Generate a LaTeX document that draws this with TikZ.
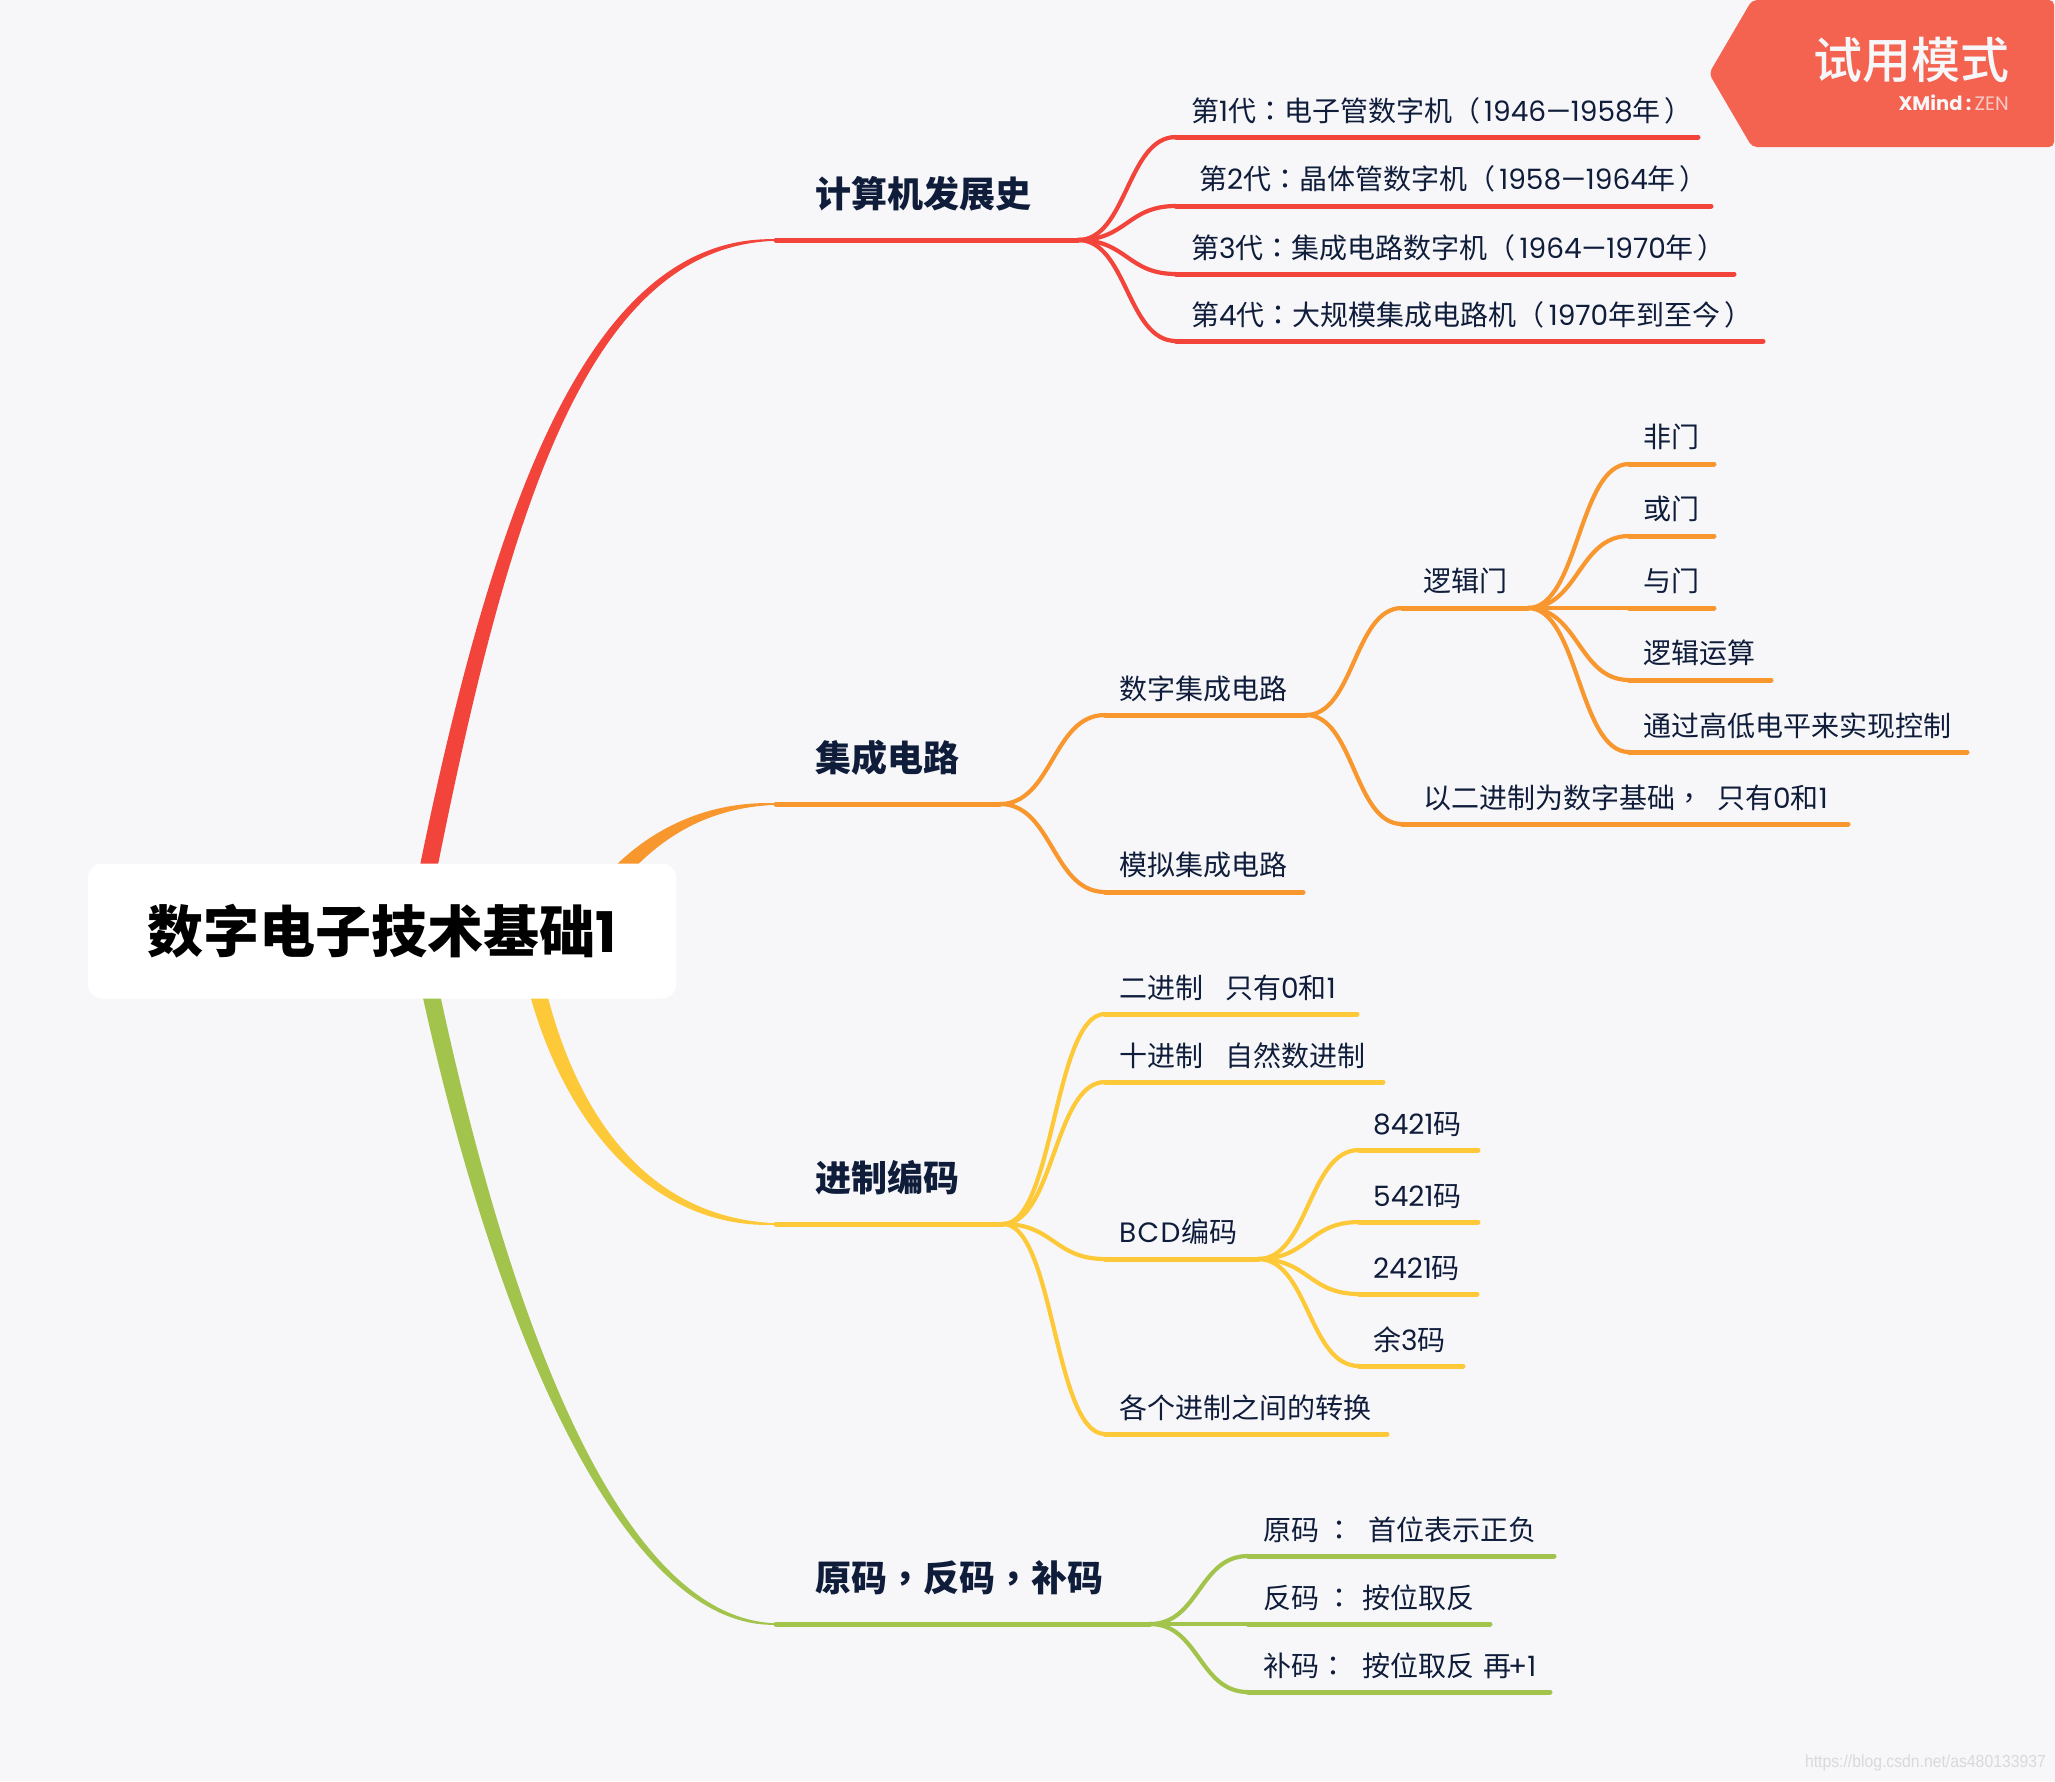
\documentclass[tikz,border=0pt]{standalone}
\usepackage{fontspec}
\usetikzlibrary{calc}
\setmainfont{Noto Sans CJK SC}
\newfontfamily\latf{Poppins}
\newfontfamily\tcf{Noto Sans CJK TC}
\newfontfamily\blackf{Noto Sans CJK SC Black}
\newfontfamily\medf{Noto Sans CJK SC Medium}
\newfontfamily\wmf{Liberation Sans}
\newcommand{\Lt}[1]{{\latf #1}}
\newcommand{\Pc}[1]{{\tcf #1}}
\newcommand{\Po}{\Pc{（}\hspace{4pt}}
\newcommand{\Pe}{\hspace{4pt}\Pc{）}}
\definecolor{bgc}{HTML}{F7F7FA}
\definecolor{redc}{HTML}{F2443A}
\definecolor{orac}{HTML}{F9972F}
\definecolor{yelc}{HTML}{FEC938}
\definecolor{grec}{HTML}{A3C44C}
\definecolor{navy}{HTML}{0F1D3A}
\definecolor{badge}{HTML}{F46350}
\tikzset{
  leaftext/.style={anchor=west,inner sep=0pt,text=navy,font=\fontsize{28}{34}\selectfont,text height=26.4pt,text depth=2.6pt},
  topictext/.style={anchor=west,inner sep=0pt,text=navy,font=\fontsize{36}{42}\selectfont\bfseries,text height=31.7pt,text depth=4.3pt},
  linkline/.style={line width=4.2pt,line cap=round},
  barline/.style={line width=5pt,line cap=round},
}
% name, colour, x0, x1, y, textx, texty, text
\newcommand{\leafitem}[8]{%
  \coordinate (#1s) at (#3,#5);
  \coordinate (#1e) at (#4,#5);
  \draw[barline,draw=#2] (#1s) -- (#1e);
  \node[leaftext] (#1) at (#6,#7) {#8};
}
\newcommand{\linkto}[3]{%
  \draw[linkline,draw=#1] (#2) .. controls ($(#2)!0.5!(#3 |- #2)$) and ($(#3)!0.5!(#2 |- #3)$) .. (#3);
}
% colour, P0, c1, c2, P3(name coordinates), off x, off y, off at c2
\newcommand{\taper}[8]{%
  \fill[#1] ($(#2)+({-1*(#6)},{-1*(#7)})$) .. controls ($(#3)+({-1*(#6)},{-1*(#7)})$) and ($(#4)+(0,{-1*(#8)})$) .. ($(#5)+(0,-0.8)$)
    -- ($(#5)+(0,0.8)$) .. controls ($(#4)+(0,#8)$) and ($(#3)+(#6,#7)$) .. ($(#2)+(#6,#7)$) -- cycle;
}
\begin{document}
\begin{tikzpicture}[x=1pt,y=-1pt]
\useasboundingbox (0,0) rectangle (2055,1781);
\fill[bgc] (0,0) rectangle (2055,1781);

% main branches
\coordinate (rA) at (416,931); \coordinate (rB) at (493,531); \coordinate (rC) at (580,240); \coordinate (rD) at (776,240);
\coordinate (oA) at (590,910); \coordinate (oB) at (630,850); \coordinate (oC) at (690,804); \coordinate (oD) at (776,804);
\coordinate (yA) at (525,930); \coordinate (yB) at (553,1110); \coordinate (yC) at (645,1224); \coordinate (yD) at (776,1224);
\coordinate (gA) at (418,931); \coordinate (gB) at (491,1300); \coordinate (gC) at (615,1624); \coordinate (gD) at (776,1624);
\taper{redc}{rA}{rB}{rC}{rD}{9}{0}{6}
\taper{orac}{oA}{oB}{oC}{oD}{7}{5}{4}
\taper{yelc}{yA}{yB}{yC}{yD}{-9}{0}{6}
\taper{grec}{gA}{gB}{gC}{gD}{-9}{0}{5}

% central topic
\node[fill=white,rounded corners=14pt,minimum width=588pt,minimum height=135pt,inner sep=0pt,anchor=center,text=black] (central) at (382,931)
  {\fontsize{56}{60}\selectfont\blackf 数字电子技术基础\Lt{\bfseries 1}};

% red
\coordinate (t1s) at (776,240); \coordinate (t1e) at (1078,240);
\draw[barline,draw=redc] (t1s) -- (t1e);
\node[topictext] (t1) at (815,194) {计算机发展史};
\leafitem{r1}{redc}{1176}{1698}{137}{1191}{110}{第\Lt{1}代\Pc{：}电子管数字机\Po\Lt{1946—1958}年\Pe}
\leafitem{r2}{redc}{1176}{1711}{206}{1199}{178}{第\Lt{2}代\Pc{：}晶体管数字机\Po\Lt{1958—1964}年\Pe}
\leafitem{r3}{redc}{1176}{1734}{274}{1191}{247}{第\Lt{3}代\Pc{：}集成电路数字机\Po\Lt{1964—1970}年\Pe}
\leafitem{r4}{redc}{1176}{1763}{341}{1191}{314}{第\Lt{4}代\Pc{：}大规模集成电路机\Po\Lt{1970}年到至今\Pe}
\linkto{redc}{t1e}{r1s}\linkto{redc}{t1e}{r2s}\linkto{redc}{t1e}{r3s}\linkto{redc}{t1e}{r4s}

% orange
\coordinate (t2s) at (776,804); \coordinate (t2e) at (1000,804);
\draw[barline,draw=orac] (t2s) -- (t2e);
\node[topictext] (t2) at (815,758) {集成电路};
\leafitem{o1}{orac}{1105}{1306}{715}{1119}{688}{数字集成电路}
\leafitem{o2}{orac}{1105}{1303}{892}{1119}{864}{模拟集成电路}
\linkto{orac}{t2e}{o1s}\linkto{orac}{t2e}{o2s}
\leafitem{o3}{orac}{1402}{1528}{608}{1423}{580}{逻辑门}
\leafitem{o4}{orac}{1402}{1848}{824}{1423}{797}{以二进制为数字基础\Pc{，}\hspace{14pt}只有\Lt{0}和\Lt{1}}
\linkto{orac}{o1e}{o3s}\linkto{orac}{o1e}{o4s}
\leafitem{o5}{orac}{1629}{1714}{464}{1643}{436}{非门}
\leafitem{o6}{orac}{1629}{1714}{536}{1643}{508}{或门}
\leafitem{o7}{orac}{1629}{1714}{608}{1643}{580}{与门}
\leafitem{o8}{orac}{1629}{1771}{680}{1643}{652}{逻辑运算}
\leafitem{o9}{orac}{1629}{1967}{752}{1643}{725}{通过高低电平来实现控制}
\linkto{orac}{o3e}{o5s}\linkto{orac}{o3e}{o6s}\linkto{orac}{o3e}{o7s}\linkto{orac}{o3e}{o8s}\linkto{orac}{o3e}{o9s}

% yellow
\coordinate (t3s) at (776,1224); \coordinate (t3e) at (1003,1224);
\draw[barline,draw=yelc] (t3s) -- (t3e);
\node[topictext] (t3) at (815,1178) {进制编码};
\leafitem{y1}{yelc}{1105}{1357}{1014}{1119}{987}{二进制\hspace{22pt}只有\Lt{0}和\Lt{1}}
\leafitem{y2}{yelc}{1105}{1383}{1082}{1119}{1055}{十进制\hspace{22pt}自然数进制}
\leafitem{y3}{yelc}{1105}{1258}{1259}{1119}{1231}{\Lt{B\hspace{1.3pt}C\hspace{1.3pt}D}\hspace{1.3pt}编码}
\leafitem{y4}{yelc}{1105}{1387}{1434}{1119}{1407}{各个进制之间的转换}
\linkto{yelc}{t3e}{y1s}\linkto{yelc}{t3e}{y2s}\linkto{yelc}{t3e}{y3s}\linkto{yelc}{t3e}{y4s}
\leafitem{y5}{yelc}{1359}{1478}{1150}{1373}{1123}{\Lt{8421}码}
\leafitem{y6}{yelc}{1359}{1478}{1222}{1373}{1195}{\Lt{5421}码}
\leafitem{y7}{yelc}{1359}{1477}{1294}{1373}{1267}{\Lt{2421}码}
\leafitem{y8}{yelc}{1359}{1463}{1366}{1373}{1339}{余\Lt{3}码}
\linkto{yelc}{y3e}{y5s}\linkto{yelc}{y3e}{y6s}\linkto{yelc}{y3e}{y7s}\linkto{yelc}{y3e}{y8s}

% green
\coordinate (t4s) at (776,1624); \coordinate (t4e) at (1150,1624);
\draw[barline,draw=grec] (t4s) -- (t4e);
\node[topictext] (t4) at (815,1578) {原码\Pc{，}反码\Pc{，}补码};
\leafitem{g1}{grec}{1248}{1554}{1556}{1263}{1529}{原码\ \Pc{：}\hspace{15pt}首位表示正负}
\leafitem{g2}{grec}{1248}{1490}{1624}{1263}{1597}{反码\ \Pc{：}\hspace{9pt}按位取反}
\leafitem{g3}{grec}{1248}{1550}{1692}{1263}{1665}{补码\Pc{：}\hspace{15pt}按位取反\hspace{9pt}再\hspace{-3pt}\Lt{+1}}
\linkto{grec}{t4e}{g1s}\linkto{grec}{t4e}{g2s}\linkto{grec}{t4e}{g3s}

% badge
\fill[badge,rounded corners=5pt] (1709,73.5) -- (1752,0) -- (2054,0) -- (2054,147) -- (1752,147) -- cycle;
\node[anchor=east,inner sep=0pt,text=bgc,font=\fontsize{49}{52}\selectfont\medf,text height=43pt,text depth=6pt] (trial) at (2010,60) {试用模式};
\node[anchor=east,inner sep=0pt,text=bgc,font=\fontsize{19.5}{23}\selectfont\latf] (brand) at (2009,103) {\bfseries XMind\,:\,\mdseries\textcolor{bgc!70!badge}{ZEN}};

% watermark
\node[anchor=east,inner sep=0pt,text=black!15,font=\fontsize{17.5}{20}\selectfont\wmf] (wm) at (2046,1763) {\scalebox{0.9}[1]{https://blog.csdn.net/as480133937}};
\end{tikzpicture}
\end{document}
